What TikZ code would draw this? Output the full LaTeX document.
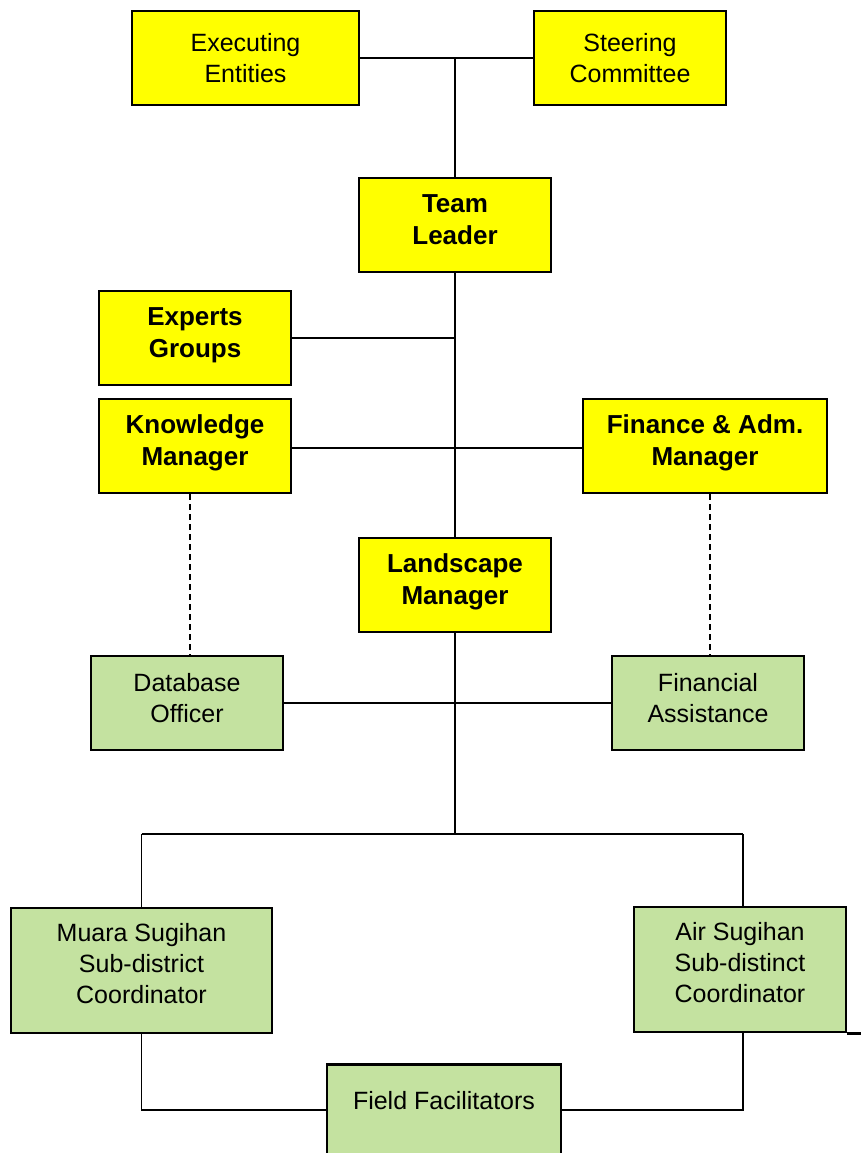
\documentclass[tikz,border=0pt]{standalone}
\usepackage{fontspec}
\setmainfont{Liberation Sans}
\usetikzlibrary{calc}
\definecolor{boxyellow}{RGB}{255,255,0}
\definecolor{boxgreen}{RGB}{196,226,160}
\tikzset{
  unit/.style={draw=black, line width=2.8pt, rectangle, align=center, inner sep=2pt,
    font=\fontsize{25}{31}\selectfont},
  ybox/.style={unit, fill=boxyellow},
  ybold/.style={ybox, font=\fontsize{26}{32}\selectfont\bfseries, text depth=11pt},
  gbox/.style={unit, fill=boxgreen, text depth=11pt},
  link/.style={draw=black, line width=1.6pt},
  dlink/.style={link, dash pattern=on 6pt off 4pt},
}
\begin{document}
\begin{tikzpicture}[x=1pt,y=-1pt]
\useasboundingbox (0,0) rectangle (861,1153);
\fill[white] (0,0) rectangle (861,1153);
\clip (0,0) rectangle (861,1153);

% nodes
\node[ybox, minimum width=227pt, minimum height=94pt] (exec) at (245.5,58) {Executing\\Entities};
\node[ybox, minimum width=192pt, minimum height=94pt] (steer) at (630,58) {Steering\\Committee};
\node[ybold, minimum width=192pt, minimum height=94pt] (team) at (455,225) {Team\\Leader};
\node[ybold, minimum width=192pt, minimum height=94pt] (experts) at (195,338) {Experts\\Groups};
\node[ybold, minimum width=192pt, minimum height=94pt] (know) at (195,446) {Knowledge\\Manager};
\node[ybold, minimum width=244pt, minimum height=94pt] (fin) at (705,446) {Finance \& Adm.\\Manager};
\node[ybold, minimum width=192pt, minimum height=94pt] (land) at (455,585) {Landscape\\Manager};
\node[gbox, minimum width=192pt, minimum height=94pt] (db) at (187,703) {Database\\Officer};
\node[gbox, minimum width=192pt, minimum height=94pt] (fa) at (708,703) {Financial\\Assistance};
\node[gbox, minimum width=261pt, minimum height=125pt, text depth=14pt] (muara) at (141.5,970.5) {Muara Sugihan\\Sub-district\\Coordinator};
\node[gbox, minimum width=212pt, minimum height=125pt, text depth=14pt] (air) at (740,969.5) {Air Sugihan\\Sub-distinct\\Coordinator};
\node[gbox, minimum width=234pt, anchor=north, text height=18pt, text depth=90pt, inner ysep=27pt] (field) at (444,1063) {Field Facilitators};

% junction coordinates
\coordinate (jtop) at (team.north |- exec.east);
\coordinate (jexp) at (experts.east -| team.south);
\coordinate (jmid) at (land.south |- 0,834);
\coordinate (jl) at (muara.north |- jmid);
\coordinate (jr) at ([xshift=3pt]air.north |- jmid);
\coordinate (fl) at ($(field.north west)+(0,47)$);
\coordinate (fr) at ($(field.north east)+(0,47)$);
\coordinate (stray) at (air.south east -| 861,0);

% connectors
\draw[link] (exec.east) -- (steer.west);
\draw[link] (jtop) -- (team.north);
\draw[link] (team.south) -- (land.north);
\draw[link] (experts.east) -- (jexp);
\draw[link] ([yshift=-2pt]know.east) -- ([yshift=-2pt]fin.west);
\draw[dlink] ([xshift=-5pt]know.south) -- ([xshift=3pt]db.north);
\draw[dlink] ([xshift=5pt]fin.south) -- ([xshift=2pt]fa.north);
\draw[link] (db.east) -- (fa.west);
\draw[link] (land.south) -- (jmid);
\draw[link] (jl) -- (jr);
\draw[link] (jl) -- (muara.north);
\draw[link] (jr) -- ([xshift=3pt]air.north);
\draw[link] (muara.south) |- (fl);
\draw[link] ([xshift=3pt]air.south) |- (fr);
\draw[line width=2.8pt] (air.south east) -- (stray);
\end{tikzpicture}
\end{document}
